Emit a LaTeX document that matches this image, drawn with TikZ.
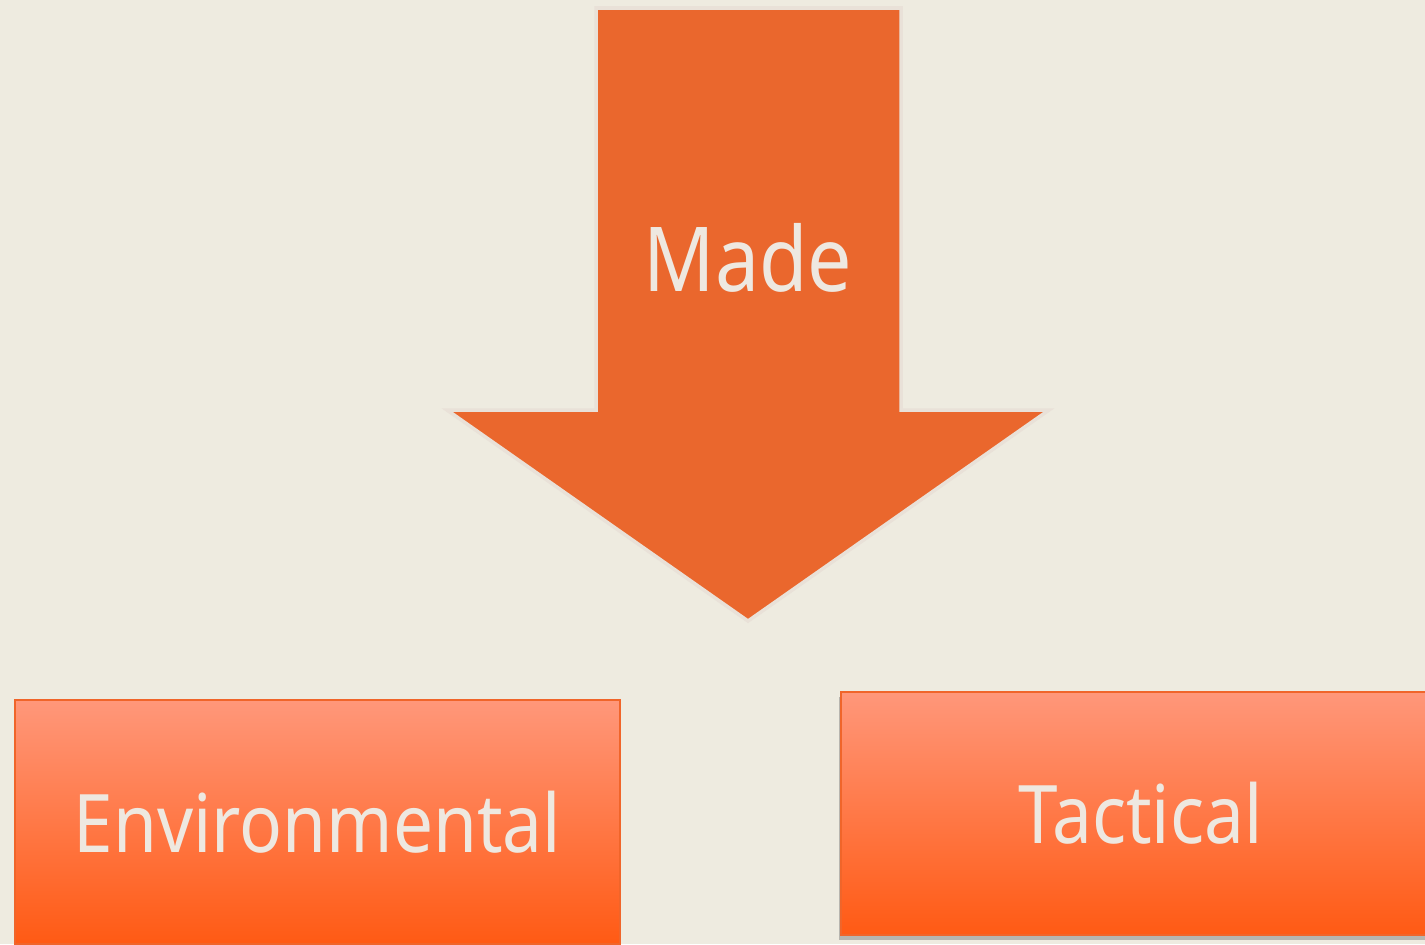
\documentclass[tikz,border=0pt]{standalone}
\usepackage{fontspec}
\setmainfont{Noto Sans}[FakeStretch=0.88]
\usepackage{tikz}
\usetikzlibrary{positioning, shadows}
\definecolor{pagebg}{HTML}{EEEBE0}
\definecolor{arrowfill}{HTML}{EA672D}
\definecolor{arrowhalo}{HTML}{E9E1D8}
\definecolor{boxtop}{HTML}{FF977A}
\definecolor{boxbottom}{HTML}{FF5A14}
\definecolor{boxedge}{HTML}{F0652A}
\definecolor{labeltext}{HTML}{EEE8E0}
\tikzset{x=0.02cm, y=-0.02cm,
  bigarrow/.style={fill=arrowfill, draw=arrowhalo, line width=2pt, line join=miter},
  arrowlabel/.style={text=labeltext, font=\fontsize{51}{60}\selectfont},
  catbox/.style={rectangle, inner sep=0pt, top color=boxtop, bottom color=boxbottom,
    draw=boxedge, line width=0.8pt, text=labeltext, font=\fontsize{46}{55}\selectfont},
  boxshadow/.style={drop shadow={shadow xshift=-1pt, shadow yshift=-3pt, opacity=0.4, fill=black!60}}}

\begin{document}
\begin{tikzpicture}
    \fill[pagebg] (0,0) rectangle (1425,944);
    \useasboundingbox (0,0) rectangle (1425,944);
    \clip (0,0) rectangle (1425,944);

    % the down arrow
    \draw[bigarrow] (596,8) -- (901,8) -- (901,410) -- (1049,410) -- (748,621)
        -- (447,410) -- (596,410) -- cycle;
    \node[arrowlabel] (made) at (748,258) {Made};

    % the two categories
    \node[catbox, minimum width=12.1cm, minimum height=4.88cm] (env) at (317.5,822) {Environmental};
    \node[catbox, boxshadow, minimum width=11.98cm, minimum height=4.86cm] (tac) at (1140.5,813.5) {Tactical};
\end{tikzpicture}
\end{document}
